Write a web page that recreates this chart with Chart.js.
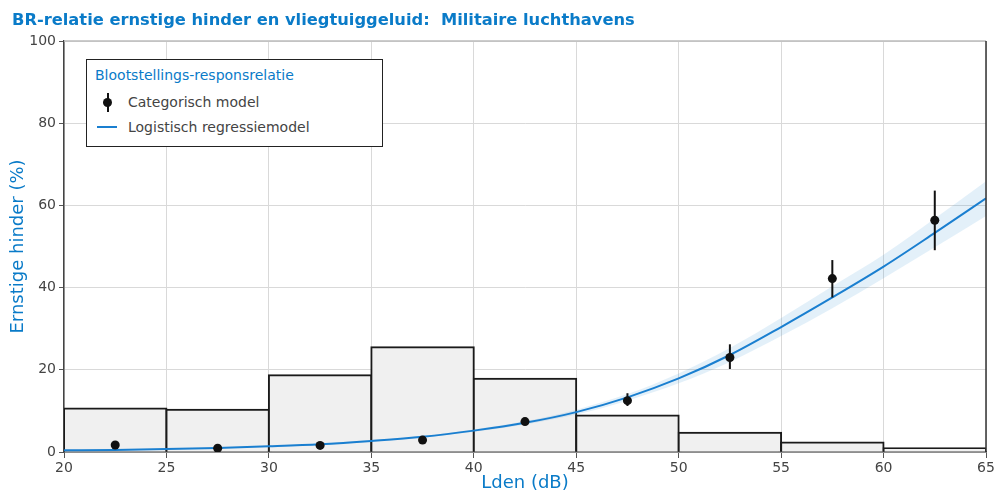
<!DOCTYPE html>
<html>
<head>
<meta charset="utf-8">
<script src="https://cdn.jsdelivr.net/npm/chart.js@4.4.1/dist/chart.umd.min.js"></script>
<style>
  body { margin: 0; background: #fff; font-family: 'DejaVu Sans', sans-serif; }
  #wrap { position: relative; width: 995px; height: 492px; overflow: hidden; }
  #title { position: absolute; left: 12px; top: 10px; font-weight: bold; font-size: 16.3px; line-height: 20px; color: #0a7bc8; white-space: pre; }
  #legend { position: absolute; left: 86px; top: 59px; width: 297px; height: 88px; box-sizing: border-box; border: 1.5px solid #222; background: #fff; color: #444; font-size: 14px; }
  #legend .ttl { position: absolute; left: 8px; top: 6px; color: #0a7bc8; line-height: 18px; }
  #legend .item { position: absolute; left: 41px; line-height: 18px; white-space: nowrap; }
  #legend .bar { position: absolute; left: 19.5px; top: 33px; width: 2px; height: 19px; background: #111; }
  #legend .dot { position: absolute; left: 16px; top: 37.5px; width: 9px; height: 9px; border-radius: 50%; background: #111; }
  #legend .ln { position: absolute; left: 10px; top: 66px; width: 20px; height: 2px; background: #1a7fd0; }
</style>
</head>
<body>
<div id="wrap">
  <canvas id="myChart" width="995" height="492"></canvas>
  <div id="title">BR-relatie ernstige hinder en vliegtuiggeluid:  Militaire luchthavens</div>
  <div id="legend">
    <div class="ttl">Blootstellings-responsrelatie</div>
    <div class="bar"></div><div class="dot"></div>
    <div class="item" style="top:33px">Categorisch model</div>
    <div class="ln"></div>
    <div class="item" style="top:58px">Logistisch regressiemodel</div>
  </div>
</div>
<script>
// histogram: share of respondents per Lden class (%)
var binCenters = [22.5, 27.5, 32.5, 37.5, 42.5, 47.5, 52.5, 57.5, 62.5];
var binShare = [10.6, 10.3, 18.7, 25.5, 17.8, 8.9, 4.7, 2.3, 0.9];

// categorical model: % ernstig gehinderd with interval
var catValue = [1.7, 0.9, 1.6, 2.9, 7.4, 12.5, 23.0, 42.2, 56.4];
var catLow = [1.2, 0.5, 1.1, 2.3, 6.7, 11.2, 20.2, 37.6, 49.1];
var catHigh = [2.3, 1.4, 2.2, 3.6, 8.1, 14.3, 26.2, 46.7, 63.6];

// logistic regression model, read every 2.5 dB
var fitLden = [20, 22.5, 25, 27.5, 30, 32.5, 35, 37.5, 40, 42.5, 45, 47.5, 50, 52.5, 55, 57.5, 60, 62.5, 65];
var fitValue = [0.4, 0.5, 0.7, 1.0, 1.4, 1.9, 2.7, 3.7, 5.2, 7.1, 9.7, 13.3, 17.9, 23.6, 30.4, 37.6, 45.1, 53.3, 61.7];
var fitUpper = [0.5, 0.6, 0.8, 1.1, 1.5, 2.1, 2.9, 3.9, 5.5, 7.5, 10.3, 14.1, 19.1, 25.3, 32.6, 40.3, 48.0, 56.8, 65.9];
var fitLower = [0.3, 0.4, 0.6, 0.9, 1.3, 1.7, 2.5, 3.5, 4.9, 6.7, 9.1, 12.5, 16.7, 21.9, 28.2, 35.0, 42.3, 49.8, 57.4];

var xTicks = [20, 25, 30, 35, 40, 45, 50, 55, 60, 65];
var yTicks = [0, 20, 40, 60, 80, 100];

var BLUE = '#0a7bc8';

function pairs(xs, ys) {
    return xs.map((x, i) => ({x: x, y: ys[i]}));
}

var errorBars = {
    id: 'errorBars',
    afterDatasetsDraw(chart) {
        var ctx = chart.ctx, x = chart.scales.x, y = chart.scales.y;
        ctx.save();
        ctx.strokeStyle = '#111';
        ctx.lineWidth = 2;
        binCenters.forEach((v, i) => {
            var px = x.getPixelForValue(v);
            ctx.beginPath();
            ctx.moveTo(px, y.getPixelForValue(catLow[i]));
            ctx.lineTo(px, y.getPixelForValue(catHigh[i]));
            ctx.stroke();
        });
        ctx.restore();
    }
};

// top (grey) and right (dark) frame lines
var frame = {
    id: 'frame',
    afterDraw(chart) {
        var ctx = chart.ctx, a = chart.chartArea;
        ctx.save();
        ctx.lineWidth = 1.5;
        ctx.strokeStyle = '#bbb';
        ctx.beginPath(); ctx.moveTo(a.left, a.top); ctx.lineTo(a.right, a.top); ctx.stroke();
        ctx.strokeStyle = '#333';
        ctx.beginPath(); ctx.moveTo(a.right, a.top); ctx.lineTo(a.right, a.bottom); ctx.stroke();
        ctx.restore();
    }
};

var ctx = document.getElementById('myChart').getContext('2d');
var chart = new Chart(ctx, {
    type: 'line',
    data: {
        datasets: [{
            type: 'line',
            label: 'Categorisch model',
            data: pairs(binCenters, catValue),
            showLine: false,
            pointRadius: 4.5,
            pointBackgroundColor: '#111',
            pointBorderWidth: 0,
            order: 1
        }, {
            type: 'line',
            label: 'Logistisch regressiemodel',
            data: pairs(fitLden, fitValue),
            borderColor: '#1a7fd0',
            borderWidth: 2,
            pointRadius: 0,
            cubicInterpolationMode: 'monotone',
            fill: false,
            order: 2
        }, {
            type: 'line',
            label: 'upper',
            data: pairs(fitLden, fitUpper),
            borderWidth: 0,
            borderColor: 'rgba(0,0,0,0)',
            pointRadius: 0,
            cubicInterpolationMode: 'monotone',
            backgroundColor: 'rgba(40, 140, 210, 0.13)',
            fill: '+1',
            order: 3
        }, {
            type: 'line',
            label: 'lower',
            data: pairs(fitLden, fitLower),
            borderWidth: 0,
            borderColor: 'rgba(0,0,0,0)',
            pointRadius: 0,
            cubicInterpolationMode: 'monotone',
            fill: false,
            order: 3
        }, {
            type: 'bar',
            label: 'Verdeling',
            data: pairs(binCenters, binShare),
            backgroundColor: '#f0f0f0',
            borderColor: '#1a1a1a',
            borderWidth: 2,
            borderSkipped: 'bottom',
            inflateAmount: 1,
            barPercentage: 1,
            categoryPercentage: 1,
            order: 4
        }]
    },
    options: {
        responsive: false,
        devicePixelRatio: 1,
        animation: false,
        layout: { padding: { top: 41, right: 9, left: 0, bottom: 0 } },
        plugins: {
            legend: { display: false },
            tooltip: { enabled: false }
        },
        scales: {
            x: {
                type: 'linear',
                min: 20,
                max: 65,
                offset: false,
                afterFit: (axis) => { axis.height = 40; axis.paddingLeft = 0; axis.paddingRight = 0; },
                afterBuildTicks: (axis) => { axis.ticks = xTicks.map(v => ({value: v})); },
                ticks: { color: '#444', font: { family: 'DejaVu Sans', size: 14 }, padding: 2, maxRotation: 0 },
                grid: { color: '#d9d9d9', tickColor: '#555', tickLength: 6, offset: false },
                border: { color: '#444', width: 1.5 },
                title: { display: true, text: 'Lden (dB)', color: BLUE, font: { family: 'DejaVu Sans', size: 18, lineHeight: 1 }, padding: 0 }
            },
            y: {
                min: 0,
                max: 100,
                afterFit: (axis) => { axis.width = 64; axis.paddingTop = 0; axis.paddingBottom = 0; },
                afterBuildTicks: (axis) => { axis.ticks = yTicks.map(v => ({value: v})); },
                ticks: { color: '#444', font: { family: 'DejaVu Sans', size: 14 }, padding: 3 },
                grid: { color: '#d9d9d9', tickColor: '#555', tickLength: 5 },
                border: { color: '#444', width: 1.5 },
                title: { display: true, text: 'Ernstige hinder (%)', color: BLUE, font: { family: 'DejaVu Sans', size: 18, lineHeight: 1.2 }, padding: { top: 8, bottom: 0 } }
            }
        }
    },
    plugins: [errorBars, frame]
});
</script>
</body>
</html>
